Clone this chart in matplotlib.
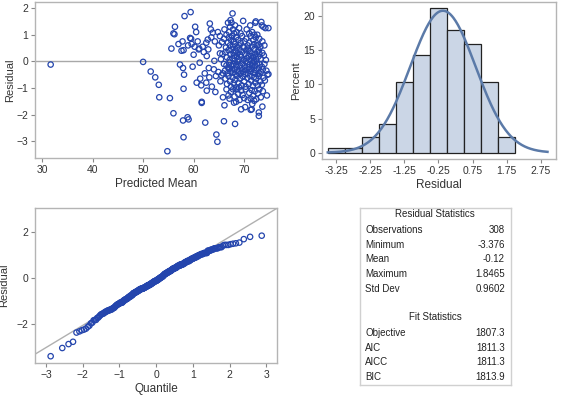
import numpy as np
import matplotlib
matplotlib.use("Agg")
import matplotlib.pyplot as plt
from statistics import NormalDist

plt.rcParams['font.family'] = ['Liberation Sans', 'DejaVu Sans']

# -------------------------------
# Data
# -------------------------------
# residual vs predicted mean, grouped by residual band (top to bottom)
pred_mean = [
    # 1.5 .. 2
    59.4, 67.7, 58.2, 67.3, 69.8, 72.3, 73.4,
    # 1 .. 1.5
    56.0, 56.2, 56.3, 60.3, 60.5, 63.2, 63.4, 63.8, 64.8, 66.1, 66.8, 67.0, 67.2, 67.5, 67.8, 68.0,
    68.2, 68.5, 69.0, 69.3, 70.5, 71.0, 71.2, 71.6, 72.0, 72.2, 73.5, 73.8, 74.2, 74.8, 72.6, 66.5,
    # 0.5 .. 1
    57.0, 57.8, 58.9, 59.3, 59.5, 59.6, 60.2, 60.8, 61.8, 62.8, 63.5, 64.2, 65.0, 65.6, 66.4, 66.8,
    67.0, 67.2, 67.4, 67.6, 67.8, 68.0, 68.2, 68.4, 68.6, 68.8, 69.0, 69.3, 69.6, 69.8, 70.1, 70.4,
    70.7, 71.0, 71.3, 71.5, 71.8, 72.0, 72.3, 72.5, 72.8, 73.0, 73.2, 73.6, 74.0, 66.0, 65.2, 62.5, 70.0,
    # 0 .. 0.5
    55.6, 57.6, 58.0, 60.0, 61.0, 61.1, 62.0, 62.6, 62.9, 64.1, 65.2, 65.4, 65.7, 66.3,
    66.6, 66.9, 67.1, 67.3, 67.5, 67.7, 67.9, 68.1, 68.3, 68.5, 68.7, 68.9, 69.1, 69.4, 69.6, 69.9,
    70.2, 70.4, 70.6, 70.9, 71.1, 71.3, 71.6, 71.8, 72.0, 72.2, 72.4, 72.6, 72.8, 73.0, 73.3, 73.6,
    73.9, 74.3, 69.2, 70.8, 71.9, 68.0, 72.9, 71.4, 70.3,
    # -0.5 .. 0
    31.7, 50.0, 51.5, 57.3, 57.9, 59.8, 61.2, 62.2, 63.0, 64.0, 64.9, 66.0,
    66.2, 66.5, 66.7, 66.9, 67.1, 67.3, 67.5, 67.7, 67.9, 68.1, 68.3, 68.5, 68.7, 68.9, 69.1, 69.3,
    69.5, 69.7, 69.9, 70.1, 70.3, 70.5, 70.7, 70.9, 71.1, 71.3, 71.5, 71.7, 71.9, 72.1, 72.3, 72.5,
    72.7, 72.9, 73.1, 73.3, 73.5, 73.7, 74.0, 74.4, 74.8, 72.2, 71.0, 69.6, 68.4, 67.0, 70.2, 72.0,
    71.6, 73.0, 68.8, 67.6, 65.8,
    # -1 .. -0.5
    52.4, 53.1, 58.1, 60.6, 61.3, 61.5, 62.5, 63.1, 63.6, 64.4, 65.3, 65.5,
    66.3, 66.6, 66.9, 67.2, 67.4, 67.7, 67.9, 68.2, 68.4, 68.6, 68.9, 69.2, 69.5, 69.8, 70.0, 70.3,
    70.6, 70.9, 71.2, 71.4, 71.7, 71.9, 72.2, 72.4, 72.7, 72.9, 73.2, 73.5, 73.8, 74.1, 74.6, 69.0,
    # -1.5 .. -1
    53.2, 55.3, 58.0, 64.3, 65.8, 62.6,
    66.5, 66.9, 67.1, 67.4, 67.8, 68.1, 68.5, 68.8, 69.1, 69.4, 69.7, 70.0, 70.3, 70.7, 71.0, 71.3,
    71.5, 71.8, 72.1, 72.4, 72.7, 73.0, 73.3, 73.7, 74.5, 72.0,
    # -2 .. -1.5
    56.0, 61.6, 61.6, 66.1, 68.0, 68.4, 69.4, 70.2, 71.3, 71.5, 71.6, 72.9, 73.6,
    # -2.5 .. -2
    57.9, 58.8, 59.0, 62.3, 66.0, 68.2, 72.9,
    # below -2.5
    58.0, 64.5, 54.8, 64.7,
]
residual = [
    1.85, 1.80, 1.70, 1.55, 1.52, 1.50, 1.48,
    1.05, 1.02, 1.30, 1.30, 1.10, 1.42, 1.20, 1.08, 1.10, 1.20, 1.45, 1.10, 1.30, 1.45, 1.20, 1.05,
    1.35, 1.10, 1.25, 1.05, 1.20, 1.05, 1.35, 1.10, 1.00, 1.45, 1.35, 1.30, 1.25, 1.25, 1.00, 1.00,
    0.65, 0.75, 0.60, 0.88, 0.85, 0.65, 0.55, 0.75, 0.55, 0.82, 0.90, 0.75, 0.60, 0.72, 0.52, 0.70,
    0.90, 0.60, 0.80, 0.95, 0.55, 0.75, 0.65, 0.90, 0.52, 0.80, 0.60, 0.70, 0.95, 0.55, 0.75, 0.85,
    0.60, 0.70, 0.95, 0.55, 0.80, 0.65, 0.90, 0.60, 0.62, 0.85, 0.55, 0.75, 0.60, 0.85, 0.95, 0.70, 0.52,
    0.48, 0.40, 0.42, 0.25, 0.45, 0.48, 0.35, 0.20, 0.45, 0.02, 0.30, 0.08, 0.28, 0.35,
    0.15, 0.42, 0.05, 0.25, 0.45, 0.12, 0.32, 0.02, 0.40, 0.20, 0.30, 0.08, 0.45, 0.18, 0.35, 0.05,
    0.28, 0.42, 0.12, 0.22, 0.38, 0.05, 0.30, 0.15, 0.45, 0.25, 0.08, 0.35, 0.18, 0.30, 0.10, 0.32,
    0.22, 0.05, 0.25, 0.48, 0.02, 0.22, 0.42, 0.20, 0.01,
    -0.12, -0.02, -0.38, -0.12, -0.25, -0.20, -0.05, -0.45, -0.25, -0.30, -0.40, -0.10,
    -0.35, -0.15, -0.45, -0.25, -0.05, -0.38, -0.18, -0.42, -0.10, -0.30, -0.48, -0.20, -0.02, -0.35, -0.15, -0.45,
    -0.25, -0.08, -0.40, -0.18, -0.32, -0.05, -0.45, -0.22, -0.12, -0.38, -0.28, -0.05, -0.42, -0.18, -0.32, -0.08,
    -0.48, -0.25, -0.12, -0.40, -0.20, -0.30, -0.10, -0.35, -0.48, -0.45, -0.30, -0.35, -0.12, -0.28, -0.48, -0.02,
    -0.15, -0.45, -0.42, -0.30, -0.45,
    -0.60, -0.88, -0.50, -0.80, -0.65, -0.90, -0.80, -0.60, -0.95, -0.55, -0.75, -0.52,
    -0.65, -0.85, -0.55, -0.75, -0.95, -0.60, -0.82, -0.70, -0.98, -0.55, -0.80, -0.65, -0.90, -0.58, -0.75, -0.95,
    -0.62, -0.85, -0.55, -0.72, -0.92, -0.60, -0.80, -0.65, -0.90, -0.55, -0.75, -0.88, -0.62, -0.72, -0.50, -0.98,
    -1.35, -1.38, -1.03, -1.15, -1.35, -1.10,
    -1.05, -1.28, -1.40, -1.15, -1.05, -1.32, -1.05, -1.22, -1.45, -1.10, -1.26, -1.38, -1.05, -1.45, -1.18, -1.40,
    -1.08, -1.30, -1.12, -1.42, -1.20, -1.05, -1.35, -1.12, -1.28, -1.48,
    -1.95, -1.52, -1.56, -1.65, -1.55, -1.52, -1.80, -1.72, -1.82, -1.80, -1.60, -1.92, -1.70,
    -2.22, -2.10, -2.18, -2.30, -2.25, -2.35, -2.05,
    -2.85, -2.75, -3.376, -3.02,
]

# histogram bins (midpoints) and percent
bin_mid = [-3.25, -2.75, -2.25, -1.75, -1.25, -0.75, -0.25, 0.25, 0.75, 1.25, 1.75]
bin_pct = [0.65, 0.65, 2.3, 4.2, 10.4, 14.3, 21.1, 17.9, 15.9, 10.4, 2.3]
hist_ticks = [-3.25, -2.25, -1.25, -0.25, 0.75, 1.75, 2.75]

# statistics table
res_labels = ["Observations", "Minimum", "Mean", "Maximum", "Std Dev"]
res_values = ["308", "-3.376", "-0.12", "1.8465", "0.9602"]
fit_labels = ["Objective", "AIC", "AICC", "BIC"]
fit_values = ["1807.3", "1811.3", "1811.3", "1813.9"]
res_mean = -0.12
res_std = 0.9602

# -------------------------------
# Style
# -------------------------------
blue = "#2445ad"
frame = "#b4b4b4"
text_c = "#333333"


def style_axes(ax):
    for s in ax.spines.values():
        s.set_color(frame)
        s.set_linewidth(1.0)
    ax.tick_params(colors="#888888", labelcolor=text_c, labelsize=7.5,
                   length=3, width=0.8, pad=2)
    ax.xaxis.label.set_color(text_c)
    ax.yaxis.label.set_color(text_c)


fig = plt.figure(figsize=(5.67, 3.99), dpi=100)

# 1. residual vs predicted mean
ax1 = fig.add_axes([35 / 567, 1 - 158 / 399, 242 / 567, 156 / 399])
ax1.axhline(0, color="#a8a8a8", lw=1.0, zorder=1)
ax1.scatter(pred_mean, residual, s=15, facecolors="none", edgecolors=blue,
            linewidths=0.9, zorder=2)
ax1.set_xlim(28.6, 76.5)
ax1.set_ylim(-3.63, 2.23)
ax1.set_xticks([30, 40, 50, 60, 70])
ax1.set_yticks([-3, -2, -1, 0, 1, 2])
ax1.set_xlabel("Predicted Mean", fontsize=8.5, labelpad=2)
ax1.set_ylabel("Residual", fontsize=8, labelpad=1)
style_axes(ax1)

# 2. histogram + normal curve
ax2 = fig.add_axes([322 / 567, 1 - 159 / 399, 234 / 567, 157 / 399])
ax2.bar(bin_mid, bin_pct, width=0.5, color="#cbd6e6", edgecolor="#222222",
        linewidth=0.9, zorder=2)
xc = np.linspace(-3.5, 2.95, 300)
yc = 100 * 0.5 / (res_std * np.sqrt(2 * np.pi)) * np.exp(-0.5 * ((xc - res_mean) / res_std) ** 2)
ax2.plot(xc, yc, color="#5b7aa8", lw=1.8, zorder=3)
ax2.set_xlim(-3.67, 3.2)
ax2.set_ylim(-0.92, 22.05)
ax2.set_xticks(hist_ticks)
ax2.set_xticklabels([f"{t:.2f}" for t in hist_ticks])
ax2.set_yticks([0, 5, 10, 15, 20])
ax2.set_xlabel("Residual", fontsize=8.5, labelpad=2)
ax2.set_ylabel("Percent", fontsize=8, labelpad=2)
style_axes(ax2)

# 3. normal quantile plot
res_sorted = np.sort(residual)
n = len(res_sorted)
quant = np.array([NormalDist().inv_cdf((i + 1 - 0.375) / (n + 0.25)) for i in range(n)])
ax3 = fig.add_axes([35 / 567, 1 - 363 / 399, 242 / 567, 155 / 399])
xl = np.array([-3.3, 3.29])
ax3.plot(xl, res_mean + res_std * xl, color="#b0b0b0", lw=1.0, zorder=1)
ax3.scatter(quant, res_sorted, s=15, facecolors="none", edgecolors=blue,
            linewidths=0.9, zorder=2)
ax3.set_xlim(-3.3, 3.29)
ax3.set_ylim(-3.67, 3.05)
ax3.set_xticks([-3, -2, -1, 0, 1, 2, 3])
ax3.set_yticks([-2, 0, 2])
ax3.set_xlabel("Quantile", fontsize=8.5, labelpad=2)
ax3.set_ylabel("Residual", fontsize=8, labelpad=5)
style_axes(ax3)

# 4. statistics table
ax4 = fig.add_axes([360 / 567, 1 - 385 / 399, 151 / 567, 177 / 399])
ax4.set_xticks([])
ax4.set_yticks([])
ax4.set_xlim(0, 151)
ax4.set_ylim(385, 208)
for s in ax4.spines.values():
    s.set_color("#d0d0d0")
    s.set_linewidth(1.0)

fs = 7
ax4.text(75, 214, "Residual Statistics", ha="center", va="center", fontsize=fs, color="#222222")
for i, (lab, val) in enumerate(zip(res_labels, res_values)):
    y = 230 + i * 14.7
    ax4.text(5, y, lab, ha="left", va="center", fontsize=fs, color="#222222")
    ax4.text(145, y, val, ha="right", va="center", fontsize=fs, color="#222222")
ax4.text(75, 317, "Fit Statistics", ha="center", va="center", fontsize=fs, color="#222222")
for i, (lab, val) in enumerate(zip(fit_labels, fit_values)):
    y = 333 + i * 14.7
    ax4.text(5, y, lab, ha="left", va="center", fontsize=fs, color="#222222")
    ax4.text(145, y, val, ha="right", va="center", fontsize=fs, color="#222222")

fig.savefig("out.png", dpi=100)
